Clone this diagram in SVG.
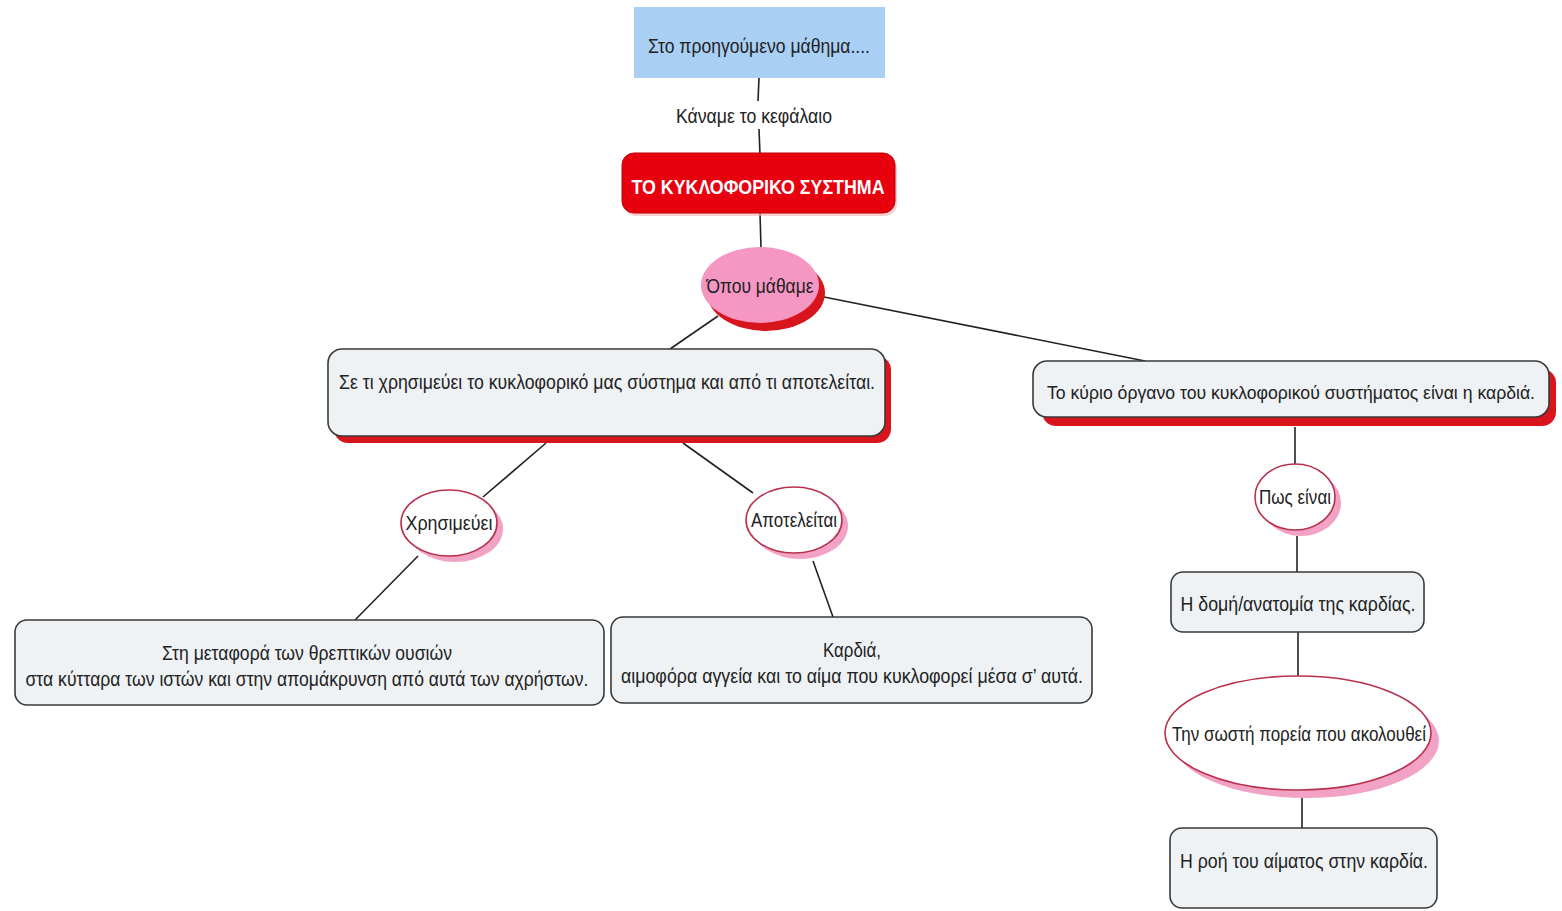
<svg xmlns="http://www.w3.org/2000/svg" width="1562" height="911" viewBox="0 0 1562 911">
<style>
text{font-family:"Liberation Sans","DejaVu Sans",sans-serif;font-size:20px;fill:#222;text-anchor:middle}
.box{fill:#eef2f5;stroke:#3a3a3a;stroke-width:1.6}
.rsh{fill:#d8141c}
.el{fill:#fff;stroke:#b8304c;stroke-width:1.6}
.psh{fill:#f2a2c4}
.ln{stroke:#222;stroke-width:1.6;fill:none}
</style>
<rect width="1562" height="911" fill="#fff"/>
<g id="connectors">
<line class="ln" x1="759" y1="78" x2="758" y2="101"/>
<line class="ln" x1="759" y1="129" x2="760" y2="155"/>
<line class="ln" x1="760" y1="213" x2="761" y2="248"/>
<line class="ln" x1="718" y1="316" x2="670" y2="349"/>
<line class="ln" x1="824" y1="297" x2="1145" y2="361"/>
<line class="ln" x1="546" y1="443" x2="483" y2="497"/>
<line class="ln" x1="683" y1="443" x2="753" y2="493"/>
<line class="ln" x1="418" y1="556" x2="355" y2="620"/>
<line class="ln" x1="813" y1="561" x2="833" y2="617"/>
<line class="ln" x1="1295" y1="427" x2="1295" y2="465"/>
<line class="ln" x1="1297" y1="536" x2="1297" y2="572"/>
<line class="ln" x1="1298" y1="632" x2="1298" y2="676"/>
<line class="ln" x1="1302" y1="797" x2="1302" y2="828"/>
</g>
<g id="n-prev">
<rect x="634" y="7" width="251" height="71" fill="#a9cff5"/>
<text x="759" y="53" textLength="222" lengthAdjust="spacingAndGlyphs">Στο προηγούμενο μάθημα....</text>
</g>
<g id="lbl-kaname">
<text x="754" y="123" textLength="156" lengthAdjust="spacingAndGlyphs">Κάναμε το κεφάλαιο</text>
</g>
<g id="n-main">
<rect x="624" y="156" width="273" height="60" rx="12" fill="#f3b0b0" opacity="0.6"/>
<rect x="622" y="153" width="273" height="60" rx="12" fill="#e8000e" stroke="#c00008" stroke-width="1"/>
<text x="758" y="194" textLength="253" lengthAdjust="spacingAndGlyphs" style="fill:#fff;font-weight:bold">ΤΟ ΚΥΚΛΟΦΟΡΙΚΟ ΣΥΣΤΗΜΑ</text>
</g>
<g id="n-opou">
<ellipse cx="766" cy="293" rx="59" ry="38" class="rsh"/>
<ellipse cx="760" cy="285" rx="59" ry="38" fill="#f597c2"/>
<text x="760" y="293" textLength="107" lengthAdjust="spacingAndGlyphs">Όπου μάθαμε</text>
</g>
<g id="n-se-ti">
<rect x="334" y="356" width="557" height="87" rx="14" class="rsh"/>
<rect x="328" y="349" width="557" height="87" rx="14" class="box"/>
<text x="607" y="389" textLength="536" lengthAdjust="spacingAndGlyphs">Σε τι χρησιμεύει το κυκλοφορικό μας σύστημα και από τι αποτελείται.</text>
</g>
<g id="n-kyrio">
<rect x="1042" y="369" width="514" height="57" rx="14" class="rsh"/>
<rect x="1033" y="361" width="516" height="56" rx="14" class="box"/>
<text x="1291" y="399" textLength="488" lengthAdjust="spacingAndGlyphs" style="font-size:18px">Το κύριο όργανο του κυκλοφορικού συστήματος είναι η καρδιά.</text>
</g>
<g id="n-xrisimeuei">
<ellipse cx="455" cy="529" rx="48" ry="33" class="psh"/>
<ellipse cx="449" cy="523" rx="48" ry="33" class="el"/>
<text x="449" y="530" textLength="87" lengthAdjust="spacingAndGlyphs">Χρησιμεύει</text>
</g>
<g id="n-apoteleitai">
<ellipse cx="800" cy="526" rx="48" ry="33" class="psh"/>
<ellipse cx="794" cy="520" rx="48" ry="33" class="el"/>
<text x="794" y="527" textLength="86" lengthAdjust="spacingAndGlyphs">Αποτελείται</text>
</g>
<g id="n-metafora">
<rect x="15" y="620" width="589" height="85" rx="12" class="box"/>
<text x="307" y="660" textLength="290" lengthAdjust="spacingAndGlyphs">Στη μεταφορά των θρεπτικών ουσιών</text>
<text x="307" y="686" textLength="563" lengthAdjust="spacingAndGlyphs">στα κύτταρα των ιστών και στην απομάκρυνση από αυτά των αχρήστων.</text>
</g>
<g id="n-kardia">
<rect x="611" y="617" width="481" height="86" rx="12" class="box"/>
<text x="852" y="657" textLength="58" lengthAdjust="spacingAndGlyphs">Καρδιά,</text>
<text x="852" y="683" textLength="462" lengthAdjust="spacingAndGlyphs">αιμοφόρα αγγεία και το αίμα που κυκλοφορεί μέσα σ’ αυτά.</text>
</g>
<g id="n-pos">
<ellipse cx="1301" cy="503" rx="40" ry="33" class="psh"/>
<ellipse cx="1295" cy="497" rx="40" ry="33" class="el"/>
<text x="1295" y="504" textLength="72" lengthAdjust="spacingAndGlyphs">Πως είναι</text>
</g>
<g id="n-domi">
<rect x="1171" y="572" width="253" height="60" rx="12" class="box"/>
<text x="1298" y="611" textLength="235" lengthAdjust="spacingAndGlyphs">Η δομή/ανατομία της καρδίας.</text>
</g>
<g id="n-poreia">
<ellipse cx="1306" cy="741" rx="133" ry="57" class="psh"/>
<ellipse cx="1298" cy="733" rx="133" ry="57" class="el"/>
<text x="1299" y="741" textLength="254" lengthAdjust="spacingAndGlyphs">Την σωστή πορεία που ακολουθεί</text>
</g>
<g id="n-roi">
<rect x="1170" y="828" width="267" height="80" rx="12" class="box"/>
<text x="1304" y="868" textLength="248" lengthAdjust="spacingAndGlyphs">Η ροή του αίματος στην καρδία.</text>
</g>
</svg>
